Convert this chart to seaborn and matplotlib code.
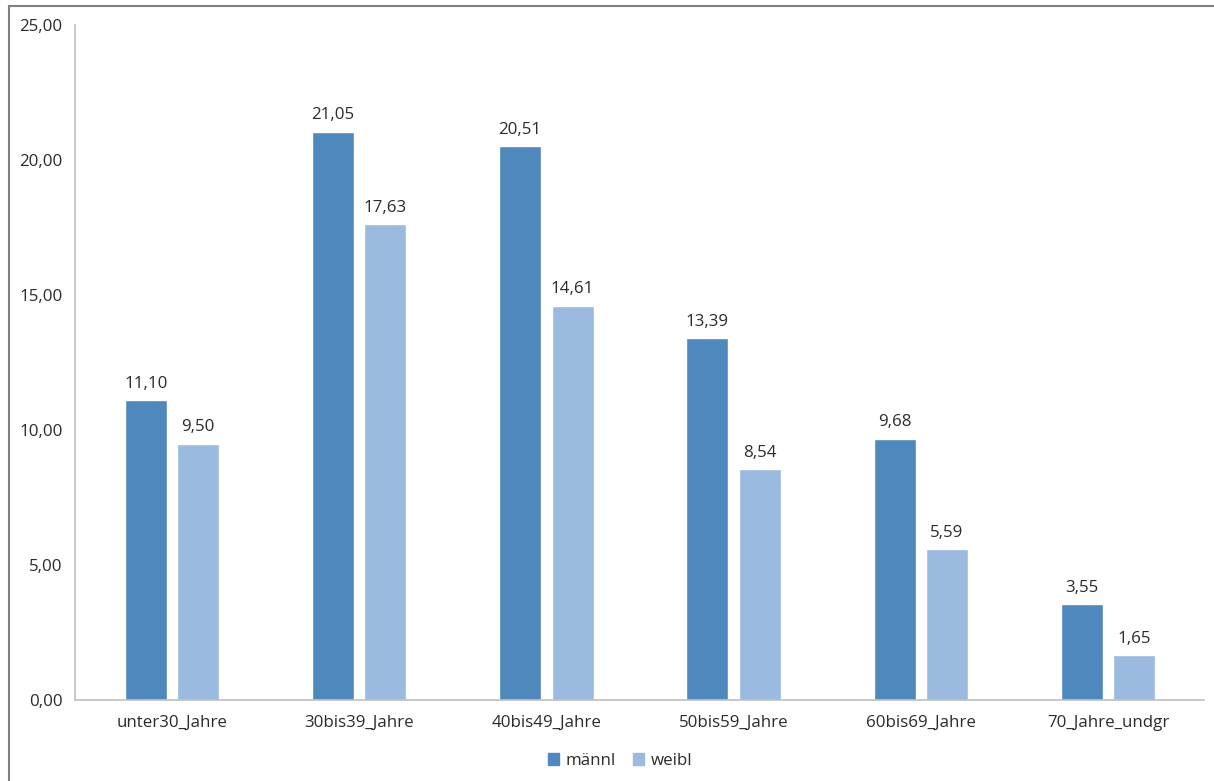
import matplotlib
matplotlib.use("Agg")
import matplotlib.pyplot as plt
import matplotlib.patches as mpatches
import seaborn as sns
import pandas as pd

categories = ["unter30_Jahre", "30bis39_Jahre", "40bis49_Jahre",
              "50bis59_Jahre", "60bis69_Jahre", "70_Jahre_undgr"]
maennl = [11.10, 21.05, 20.51, 13.39, 9.68, 3.55]
weibl = [9.50, 17.63, 14.61, 8.54, 5.59, 1.65]
series_names = ["männl", "weibl"]
y_ticks = [0, 5, 10, 15, 20, 25]

df = pd.DataFrame({
    "cat": categories * 2,
    "val": maennl + weibl,
    "series": [series_names[0]] * len(categories) + [series_names[1]] * len(categories),
})

sns.set_theme(style="white")
plt.rcParams['font.family'] = ['Open Sans', 'DejaVu Sans']

FS = 12.2
TXT = "#2b2b2b"

fig = plt.figure(figsize=(12.14, 7.81), dpi=100)
ax = fig.add_axes([75/1214, 1 - 700/781, (1204 - 75)/1214, (700 - 25)/781])

colors = ["#4F88BD", "#9BBAE0"]
sns.barplot(data=df, x="cat", y="val", hue="series", order=categories,
            hue_order=series_names, palette=colors, width=0.56, gap=0.2,
            saturation=1, ax=ax, legend=False)

for cont in ax.containers:
    labels = [f"{b.get_height():.2f}".replace(".", ",") for b in cont]
    ax.bar_label(cont, labels=labels, padding=6, fontsize=FS, color=TXT)

ax.set_ylim(0, 25)
ax.set_xlim(-0.518, 5.513)
ax.set_yticks(y_ticks)
ax.set_yticklabels([f"{t:.2f}".replace(".", ",") for t in y_ticks])
ax.tick_params(axis="both", length=0, labelsize=FS, colors=TXT)
ax.tick_params(axis="y", pad=9)
ax.tick_params(axis="x", pad=11)
ax.set_xlabel("")
ax.set_ylabel("")
for s in ["top", "right"]:
    ax.spines[s].set_visible(False)
for s in ["left", "bottom"]:
    ax.spines[s].set_color("#BFBFBF")
    ax.spines[s].set_linewidth(1.2)

handles = [mpatches.Patch(color=c, label=n) for c, n in zip(colors, series_names)]
fig.legend(handles=handles, loc="center", bbox_to_anchor=(620/1214, 1 - 761/781),
           ncol=2, frameon=False, fontsize=FS, handlelength=0.65, handleheight=0.65,
           handletextpad=0.4, columnspacing=1.0, labelcolor=TXT)

border = mpatches.Rectangle((9/1214, -0.05), 1.2, 1 - 6/781 + 0.05,
                            transform=fig.transFigure, fill=False,
                            edgecolor="#808080", linewidth=1.5, clip_on=False)
fig.patches.append(border)

fig.savefig("out.png", dpi=100)
